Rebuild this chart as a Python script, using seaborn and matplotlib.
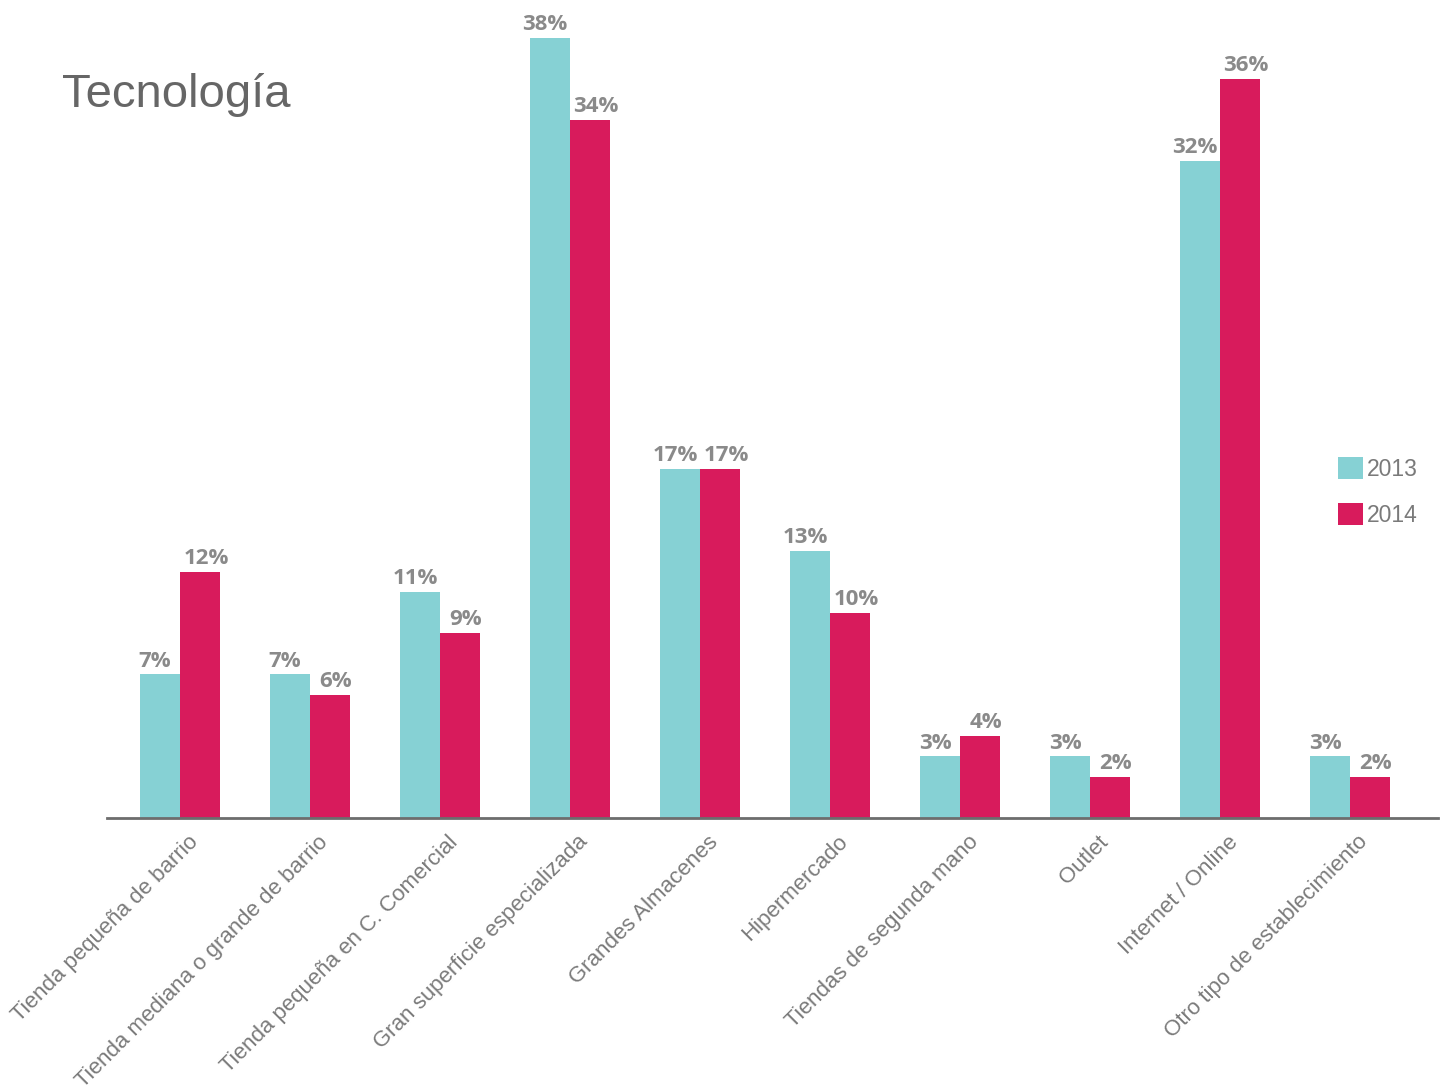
import matplotlib
matplotlib.use("Agg")
import matplotlib.pyplot as plt
import matplotlib.transforms as mtransforms
from matplotlib.patches import Patch
import pandas as pd
import seaborn as sns

categories = [
    "Tienda pequeña de barrio",
    "Tienda mediana o grande de barrio",
    "Tienda pequeña en C. Comercial",
    "Gran superficie especializada",
    "Grandes Almacenes",
    "Hipermercado",
    "Tiendas de segunda mano",
    "Outlet",
    "Internet / Online",
    "Otro tipo de establecimiento",
]
years = ["2013", "2014"]
values_2013 = [7, 7, 11, 38, 17, 13, 3, 3, 32, 3]
values_2014 = [12, 6, 9, 34, 17, 10, 4, 2, 36, 2]

colors = {"2013": "#86D1D4", "2014": "#D81B5C"}

df = pd.DataFrame({
    "categoria": categories * 2,
    "año": ["2013"] * len(categories) + ["2014"] * len(categories),
    "valor": values_2013 + values_2014,
})

sns.set_theme(style="white")
plt.rcParams["font.family"] = ["Liberation Sans", "DejaVu Sans"]

fig = plt.figure(figsize=(14.45, 10.89), dpi=100)
ax = fig.add_axes([107 / 1445, (1089 - 818) / 1089, 1331 / 1445, 818 / 1089])

sns.barplot(
    data=df, x="categoria", y="valor", hue="año", hue_order=years,
    palette=colors, width=0.615, gap=0, saturation=1, legend=False,
    linewidth=0, edgecolor="none", ax=ax,
)

ax.set_xlim(-0.5615, 9.677)
ax.set_ylim(0, 39.85)

# value labels, pushed slightly apart so neighbouring labels don't collide
nudges_px = [-5, 6]
for container, dx in zip(ax.containers, nudges_px):
    texts = ax.bar_label(container, labels=[f"{v:.0f}%" for v in container.datavalues],
                         padding=2, fontsize=16, fontweight="bold", color="#8a8a8a",
                         family=["Open Sans", "DejaVu Sans"])
    for t in texts:
        t.xyann = (dx * 72 / 100, 2)

for s in ["left", "right", "top"]:
    ax.spines[s].set_visible(False)
ax.spines["bottom"].set_color("#6d6d6d")
ax.spines["bottom"].set_linewidth(2)

ax.set_yticks([])
ax.set_xlabel("")
ax.set_ylabel("")
ax.tick_params(axis="x", length=0, pad=15)
ax.set_xticks(range(len(categories)))
ax.set_xticklabels(categories, rotation=45, ha="right", va="center",
                   rotation_mode="anchor", fontsize=16, color="#7a7a7a")
offset = mtransforms.ScaledTranslation(15 / 100, 0, fig.dpi_scale_trans)
for lbl in ax.get_xticklabels():
    lbl.set_transform(lbl.get_transform() + offset)

fig.text(62 / 1445, 1 - 95 / 1089, "Tecnología", fontsize=34, color="#666666",
         fontweight="light", ha="left", va="center")

handles = [Patch(facecolor=colors[y], edgecolor="none", label=y) for y in years]
leg = ax.legend(handles=handles, loc="upper left",
                bbox_to_anchor=(1329 / 1445, 1 - 448 / 1089),
                bbox_transform=fig.transFigure, frameon=False,
                fontsize=16.5, handlelength=1.1, handleheight=1.1,
                handletextpad=0.15, labelspacing=0.95, borderaxespad=0)
for t in leg.get_texts():
    t.set_color("#7a7a7a")

fig.savefig("out.png", dpi=100, facecolor="white")
